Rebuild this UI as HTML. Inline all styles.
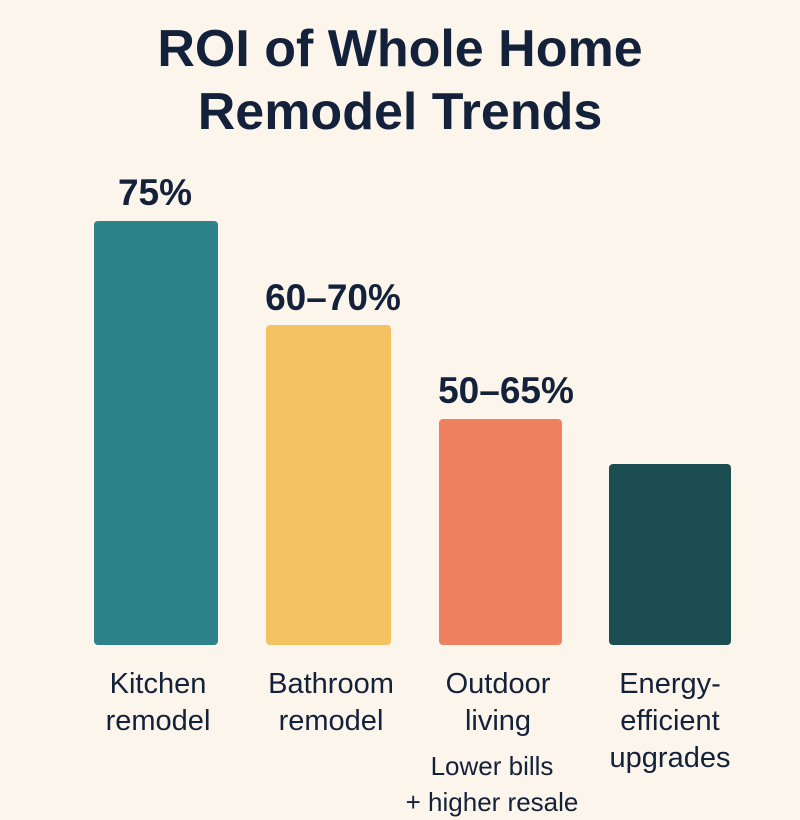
<!DOCTYPE html>
<html><head><style>
body{margin:0;width:800px;height:800px;background:#fcf5eb;position:relative;overflow:hidden;font-family:"Liberation Sans",sans-serif;color:#14213a}
.t{position:absolute;left:0;width:800px;text-align:center;font-size:52px;font-weight:bold;line-height:62px}
.b{position:absolute;border-radius:4px}
.v{position:absolute;font-size:37px;font-weight:bold;text-align:center;width:240px}
.l{position:absolute;font-size:29px;text-align:center;width:240px;line-height:37px}
</style></head><body>
<div class="t" style="top:18px">ROI of Whole Home</div>
<div class="t" style="top:81px">Remodel Trends</div>
<div class="b" style="left:94px;top:221px;width:124px;height:424px;background:#2e8289"></div>
<div class="b" style="left:266px;top:325px;width:125px;height:320px;background:#f4c163"></div>
<div class="b" style="left:439px;top:419px;width:123px;height:226px;background:#ef8060"></div>
<div class="b" style="left:609px;top:464px;width:122px;height:181px;background:#1b4d53"></div>
<div class="v" style="left:35px;top:172px">75%</div>
<div class="v" style="left:213px;top:277px">60–70%</div>
<div class="v" style="left:386px;top:370px">50–65%</div>
<div class="l" style="left:38px;top:666px">Kitchen<br>remodel</div>
<div class="l" style="left:211px;top:666px">Bathroom<br>remodel</div>
<div class="l" style="left:378px;top:666px">Outdoor<br>living</div>
<div class="l" style="left:550px;top:666px">Energy-<br>efficient<br>upgrades</div>
<div class="l" style="left:372px;top:748px;font-size:26px;line-height:36px">Lower bills<br>+ higher resale</div>
</body></html>
